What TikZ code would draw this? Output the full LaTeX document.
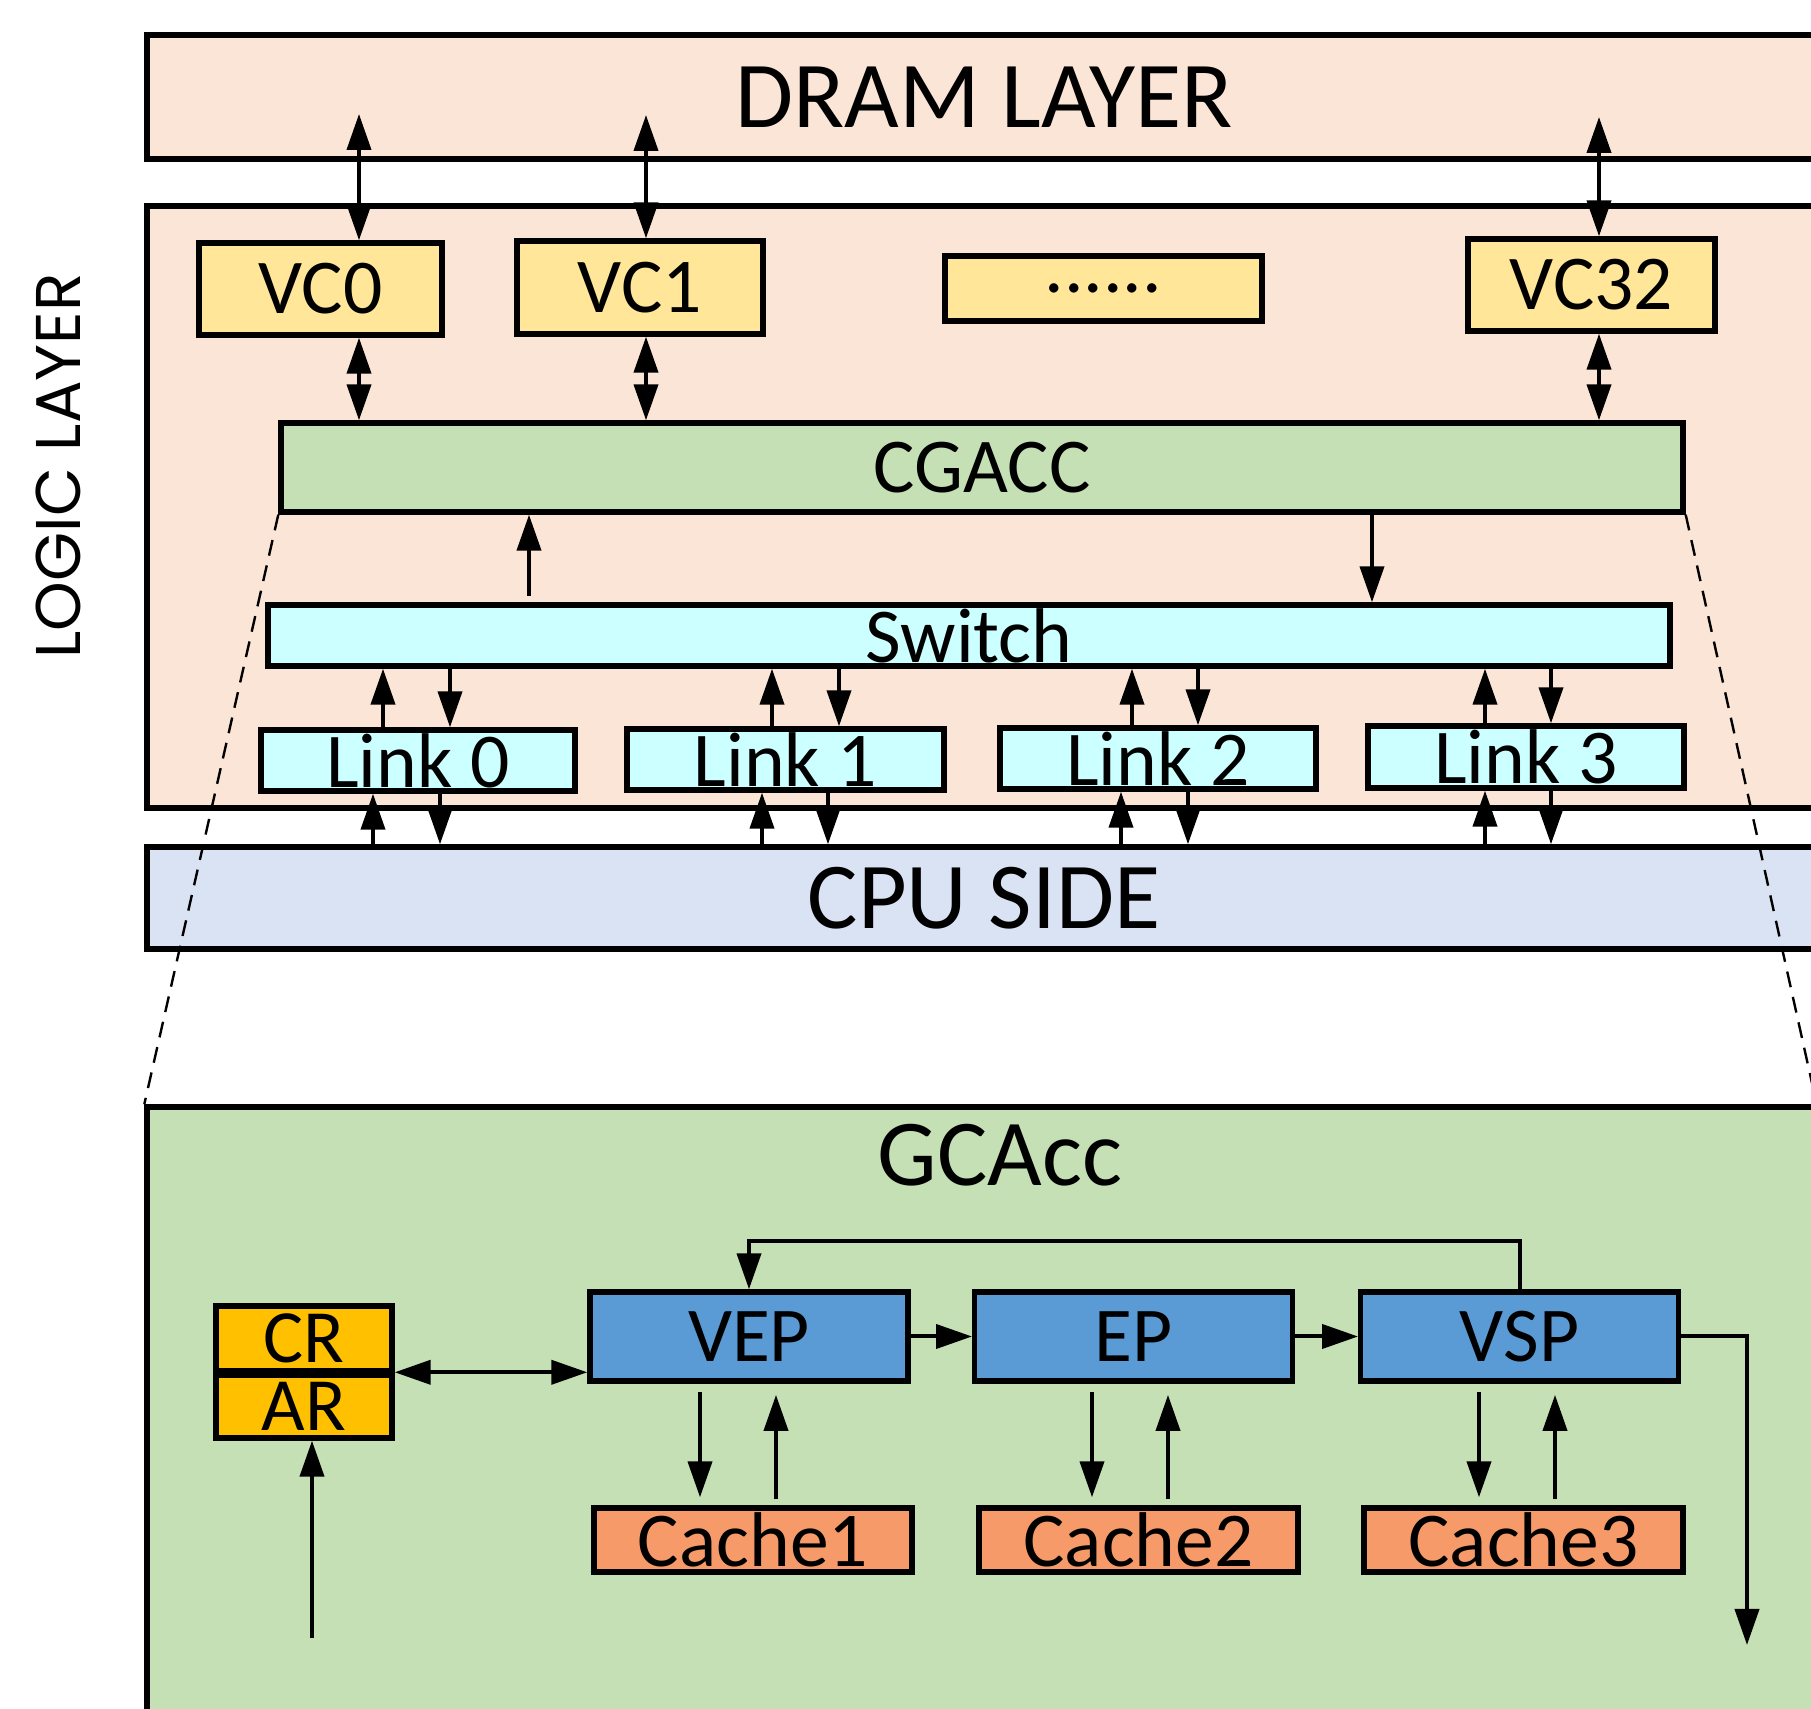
\documentclass[tikz,border=0pt]{standalone}
\usepackage{fontspec}
\setmainfont{Carlito}
\newfontfamily\roundfont{Poppins}
\usetikzlibrary{arrows.meta}

\definecolor{peach}{HTML}{FBE5D6}
\definecolor{vcyel}{HTML}{FFE699}
\definecolor{accgreen}{HTML}{C5E0B4}
\definecolor{swcyan}{HTML}{CCFFFF}
\definecolor{cpublue}{HTML}{DAE3F3}
\definecolor{regorange}{HTML}{FFC000}
\definecolor{pipeblue}{HTML}{5B9BD5}
\definecolor{cachered}{HTML}{F79A6A}

\tikzset{
  blk/.style={draw, line width=1.35pt, inner sep=0pt, anchor=center},
  bigtxt/.style={font=\fontsize{23.6}{28}\selectfont},
  midtxt/.style={font=\fontsize{19.4}{23}\selectfont},
  layerbox/.style={blk, minimum width=418.5pt, bigtxt},
  vcbox/.style={blk, fill=vcyel, minimum width=61.5pt, minimum height=23pt, midtxt},
  linkbox/.style={blk, fill=swcyan, minimum width=79pt, minimum height=15.25pt, midtxt},
  pipebox/.style={blk, fill=pipeblue, minimum width=79.4pt, minimum height=22.25pt, midtxt},
  cachebox/.style={blk, fill=cachered, minimum width=79.7pt, minimum height=16pt, midtxt},
  regbox/.style={blk, fill=regorange, minimum width=44pt, minimum height=16pt, font=\fontsize{18.8}{22}\selectfont},
  tip/.style={line width=1pt, -{Triangle[length=9pt,width=6pt]}},
  dtip/.style={line width=1pt, {Triangle[length=9pt,width=6pt]}-{Triangle[length=9pt,width=6pt]}},
  zoomline/.style={line width=0.6pt, dash pattern=on 4pt off 2.5pt},
}

\begin{document}
\begin{tikzpicture}[x=0.25pt,y=0.25pt,yscale=-1,xscale=1]
\clip (0,0) rectangle (1811,1709);
\fill [white] (0,0) rectangle (1811,1709);

%Shape: Layers
\node [layerbox, fill=peach, minimum height=31pt] (dram) at (984,97) {DRAM LAYER};
\node [layerbox, fill=peach, minimum height=150.5pt] (logic) at (984,507) {};
\node [layerbox, fill=cpublue, minimum height=25.5pt] (cpu) at (984,898) {CPU SIDE};
% Text Node
\node [rotate=90, font=\roundfont\fontsize{15.8}{18}\selectfont] (logiclbl) at (58,466) {LOGIC LAYER};

%Shape: Vault controllers
\node [vcbox, minimum width=60.75pt] (vc0) at (320.5,289) {VC0};
\node [vcbox, minimum height=23.25pt] (vc1) at (640,287.5) {VC1};
\node [vcbox, minimum width=79.25pt, minimum height=16.25pt] (vcdots) at (1103.5,288.5) {......};
\node [vcbox, minimum width=61.75pt] (vc32) at (1591.5,285) {VC32};

%Shape: CGACC, switch and links
\node [blk, fill=accgreen, minimum width=350.5pt, minimum height=22.25pt, midtxt] (cgacc) at (982,467.5) {CGACC};
\node [blk, fill=swcyan, minimum width=350.5pt, minimum height=15.25pt, midtxt] (switch) at (969,635.5) {Switch};
\node [linkbox, minimum width=78.5pt] (link0) at (418,760.5) {Link 0};
\node [linkbox, minimum width=79.25pt] (link1) at (785.5,759.5) {Link 1};
\node [linkbox] (link2) at (1158,758.5) {Link 2};
\node [linkbox, minimum height=15.5pt] (link3) at (1526,757) {Link 3};

%Straight Lines: DRAM <-> VC <-> CGACC
\coordinate (d0) at (359,114);
\coordinate (d1) at (646,115);
\coordinate (d32) at (1599,117);
\foreach \v in {0,1,32}{
  \draw [dtip] (d\v) -- (d\v |- vc\v.north);
  \draw [dtip] (vc\v.south -| d\v) -- (cgacc.north -| d\v);
}

%Straight Lines: CGACC <-> switch
\coordinate (swup) at (529,596);
\draw [tip] (swup) -- (swup |- cgacc.south);
\draw [tip] (cgacc.south -| 1372,0) -- (switch.north -| 1372,0);

%Straight Lines: switch <-> links <-> CPU
\foreach \n/\u/\d/\p/\q in {0/383/450/373/440, 1/772/839/762/828, 2/1132/1198/1121/1188, 3/1485/1551/1485/1551}{
  \draw [tip] (link\n.north -| \u,0) -- (switch.south -| \u,0);
  \draw [tip] (switch.south -| \d,0) -- (link\n.north -| \d,0);
  \draw [tip] (cpu.north -| \p,0) -- (link\n.south -| \p,0);
  \draw [tip] (link\n.south -| \q,0) -- (cpu.north -| \q,0);
}

%Shape: GCAcc detail
\node [blk, fill=accgreen, minimum width=416.75pt, minimum height=163.25pt] (gcacc) at (980.5,1433.5) {};
% Text Node
\node [bigtxt] (gcacclbl) at (1000,1155) {GCAcc};

%Straight Lines: zoom
\draw [zoomline] (cgacc.south west) -- (gcacc.north west);
\draw [zoomline] (cgacc.south east) -- (gcacc.north east);

\node [regbox, minimum height=16.25pt] (cr) at (304,1338.5) {CR};
\node [regbox, minimum height=15.75pt] (ar) at (304,1406.5) {AR};
\node [pipebox, minimum width=79.5pt] (vep) at (749,1336.5) {VEP};
\node [pipebox] (ep) at (1133.5,1336.5) {EP};
\node [pipebox] (vsp) at (1519.5,1336.5) {VSP};
\node [cachebox, minimum width=79.5pt] (cache1) at (753,1540) {Cache1};
\node [cachebox] (cache2) at (1138.5,1540) {Cache2};
\node [cachebox] (cache3) at (1523.5,1540) {Cache3};

%Straight Lines: pipeline
\draw [dtip] (ar.north east) -- (vep.west |- ar.north);
\draw [tip] (vep.east) -- (ep.west);
\draw [tip] (ep.east) -- (vsp.west);
\draw [tip] (vsp.north) -- ++(0,-48) -| (vep.north);
\coordinate (gcout) at (1747,1645);
\draw [tip] (vsp.east) -| (gcout);
\coordinate (gcin) at (312,1638);
\draw [tip] (gcin) -- (gcin |- ar.south);

\foreach \s/\c/\a/\b in {vep/cache1/700/776, ep/cache2/1092/1168, vsp/cache3/1479/1555}{
  \draw [tip, shorten <=2.2pt, shorten >=2pt] (\s.south -| \a,0) -- (\c.north -| \a,0);
  \draw [tip, shorten <=1.5pt, shorten >=2.8pt] (\c.north -| \b,0) -- (\s.south -| \b,0);
}

\end{tikzpicture}
\end{document}
